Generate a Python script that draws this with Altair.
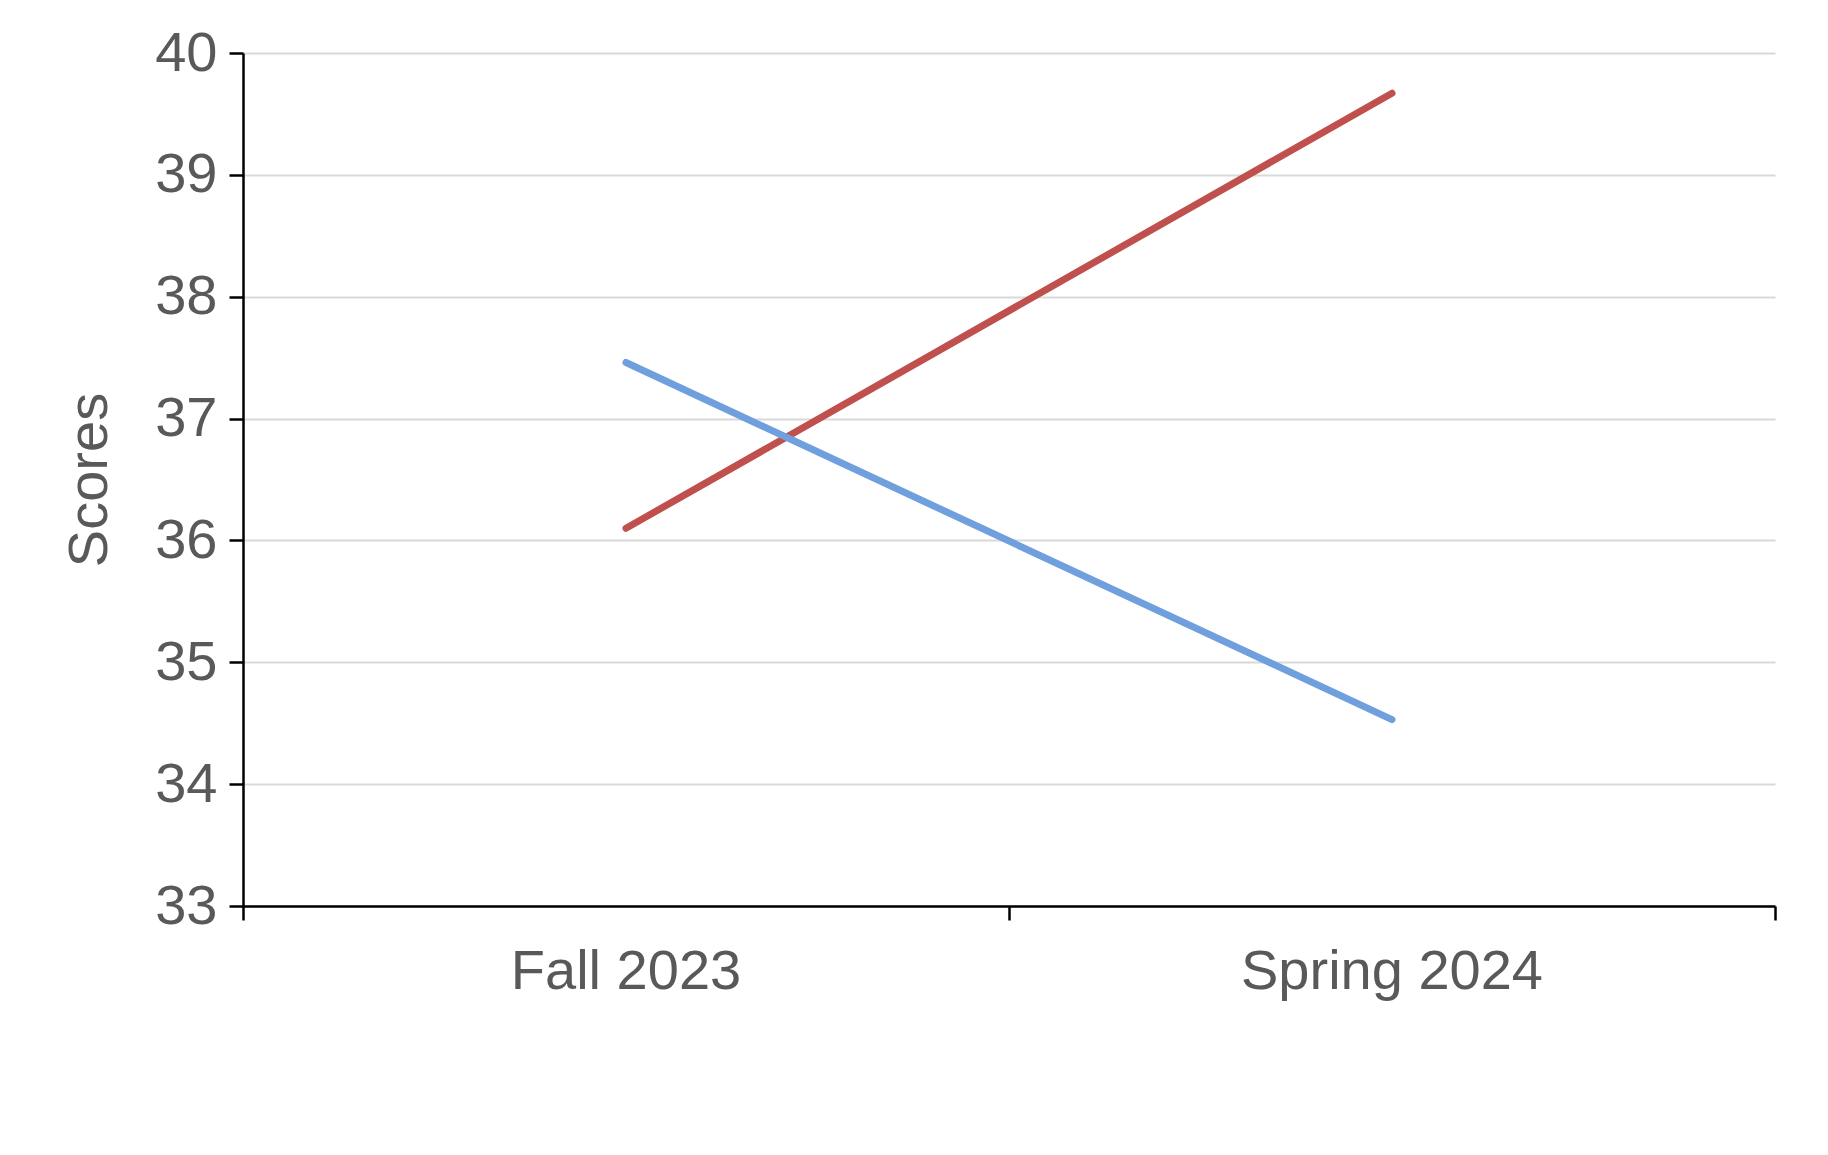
import altair as alt
import pandas as pd

terms = ["Fall 2023", "Spring 2024"]
term_pos = [0.5, 1.5]
returners = [36.1, 39.67]
new_members = [37.46, 34.53]
series = ["Returners (n = 15)", "New Members (n = 9)"]

rows = []
for s, vals in zip(series, [returners, new_members]):
    for t, p, v in zip(terms, term_pos, vals):
        rows.append({"series": s, "term": t, "pos": p, "score": v})
df = pd.DataFrame(rows)
lab = pd.DataFrame({"term": terms, "pos": term_pos})

W, H = 1532, 853
F = "Liberation Sans"
FS = 56

lines = alt.Chart(df).mark_line(strokeWidth=7, strokeCap="round").encode(
    x=alt.X("pos:Q", scale=alt.Scale(domain=[0, 2]),
            axis=alt.Axis(values=[0, 1, 2], labels=False, grid=False, title=None,
                          domainColor="black", domainWidth=2.5, tickColor="black",
                          tickWidth=2.5, tickSize=14)),
    y=alt.Y("score:Q", scale=alt.Scale(domain=[33, 40]),
            axis=alt.Axis(values=list(range(33, 41)), title="Scores", titleFontSize=FS,
                          titleFont=F, titleColor="#595959", titleFontWeight="normal",
                          titlePadding=36, labelFontSize=FS, labelFont=F,
                          labelColor="#595959", labelPadding=12, gridColor="#d9d9d9",
                          gridWidth=2, domainColor="black", domainWidth=2.5,
                          tickColor="black", tickWidth=2.5, tickSize=14)),
    color=alt.Color("series:N", sort=series,
                    scale=alt.Scale(domain=series, range=["#c0504d", "#6f9fdc"]),
                    legend=alt.Legend(orient="none", legendX=44, legendY=985,
                                      direction="horizontal", title=None,
                                      symbolType="stroke", symbolStrokeWidth=7,
                                      symbolSize=9000, labelFontSize=FS, labelFont=F,
                                      labelColor="#595959", columnPadding=90,
                                      labelLimit=0, labelOffset=6)),
)

labels = alt.Chart(lab).mark_text(fontSize=FS, font=F, color="#595959", baseline="middle").encode(
    x="pos:Q", y=alt.value(H + 66), text="term:N")

chart = alt.layer(lines, labels).properties(
    width=W, height=H,
    autosize=alt.AutoSizeParams(type="none"),
    padding={"left": 235, "top": 45, "right": 40, "bottom": 140},
).configure_view(stroke=None)
chart.save("out.html", embed_options={"renderer": "svg", "actions": False})
